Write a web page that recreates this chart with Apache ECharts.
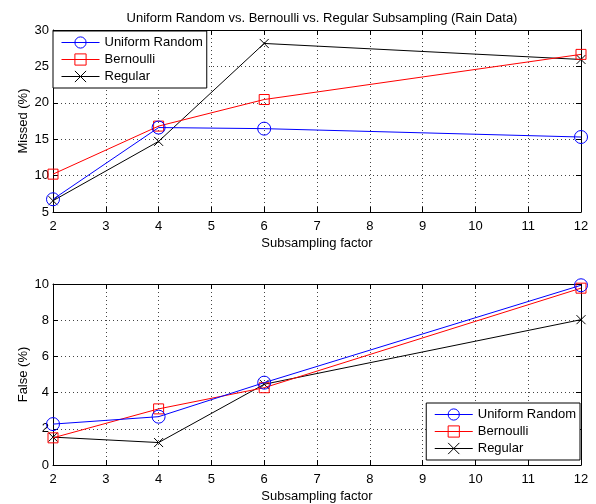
<!DOCTYPE html>
<html>
<head>
<meta charset="utf-8">
<script src="https://cdn.jsdelivr.net/npm/echarts@6/dist/echarts.min.js"></script>
<style>html,body{margin:0;padding:0;background:#fff}#c{width:596px;height:504px}</style>
</head>
<body>
<div id="c"></div>
<script>
var factors = [2, 4, 6, 12];
var seriesNames = ['Uniform Random', 'Bernoulli', 'Regular'];
var missedUniform = [6.75, 16.6, 16.45, 15.3];
var missedBernoulli = [10.2, 16.8, 20.45, 26.65];
var missedRegular = [6.55, 14.7, 28.15, 25.95];
var falseUniform = [2.26, 2.67, 4.55, 9.93];
var falseBernoulli = [1.50, 3.10, 4.27, 9.77];
var falseRegular = [1.54, 1.24, 4.46, 8.03];
var titleText = 'Uniform Random vs. Bernoulli vs. Regular Subsampling (Rain Data)';
var xName = 'Subsampling factor';
var yNameTop = 'Missed (%)';
var yNameBottom = 'False (%)';

var FONT = 'Liberation Sans, Arial, sans-serif';
var colors = ['#0000ff', '#ff0000', '#000000'];
var symbols = ['circle', 'rect', 'path://M0,0L10,10M10,0L0,10'];
var sizes = [13, 10, 9];

function pairs(vals) { return factors.map(function (f, i) { return [f, vals[i]]; }); }

var chart = echarts.init(document.getElementById('c'), null, {renderer: 'canvas'});

function mkX(gi, main) {
  return {
    type: 'value', gridIndex: gi, min: 2, max: 12, interval: 1,
    position: main ? 'bottom' : 'top',
    name: main ? xName : '', nameLocation: 'middle', nameGap: 25,
    nameTextStyle: {fontFamily: FONT, fontSize: 13, color: '#000'},
    axisLine: {show: true, onZero: false, lineStyle: {color: '#000', width: 1}},
    axisTick: {show: true, inside: true, length: 5, lineStyle: {color: '#000'}},
    axisLabel: {show: main, fontFamily: FONT, fontSize: 13, color: '#000', margin: 8},
    splitLine: {show: main, lineStyle: {color: '#444', type: [1, 3], width: 1}}
  };
}
function mkY(gi, main, min, max, interval, name) {
  return {
    type: 'value', gridIndex: gi, min: min, max: max, interval: interval,
    position: main ? 'left' : 'right',
    name: main ? name : '', nameLocation: 'middle', nameGap: 23, nameMoveOverlap: false,
    nameTextStyle: {fontFamily: FONT, fontSize: 13, color: '#000'},
    axisLine: {show: true, onZero: false, lineStyle: {color: '#000', width: 1}},
    axisTick: {show: true, inside: true, length: 5, lineStyle: {color: '#000'}},
    axisLabel: {show: main, fontFamily: FONT, fontSize: 13, color: '#000', margin: 4},
    splitLine: {show: main, lineStyle: {color: '#444', type: [1, 3], width: 1}}
  };
}

function mkSeries(data, k, xi, yi) {
  return {
    name: seriesNames[k], type: 'line', xAxisIndex: xi, yAxisIndex: yi,
    data: pairs(data), symbol: symbols[k], symbolSize: sizes[k], showSymbol: true,
    lineStyle: {color: colors[k], width: 1},
    itemStyle: {color: 'rgba(0,0,0,0)', borderColor: colors[k], borderWidth: 1},
    emphasis: {disabled: true}, z: 3 + (2 - k)
  };
}

var legendBase = {
  orient: 'vertical', data: seriesNames, itemWidth: 38, itemHeight: 14, itemGap: 4,
  backgroundColor: '#fff', borderColor: '#000', borderWidth: 1, borderRadius: 0,
  textStyle: {fontFamily: FONT, fontSize: 13, color: '#000'},
  lineStyle: {width: 1}, itemStyle: {borderWidth: 1},
  selectedMode: false, z: 10
};

chart.setOption({
  animation: false,
  backgroundColor: '#fff',
  title: {text: titleText, left: 317, textAlign: 'center', top: 7,
    textStyle: {fontFamily: FONT, fontSize: 13, fontWeight: 'normal', color: '#000'}},
  grid: [
    {left: 53, right: 15, top: 30, bottom: 292},
    {left: 53, right: 15, top: 284, bottom: 36}
  ],
  xAxis: [mkX(0, true), mkX(0, false), mkX(1, true), mkX(1, false)],
  yAxis: [mkY(0, true, 5, 30, 5, yNameTop), mkY(0, false, 5, 30, 5, ''),
          mkY(1, true, 0, 10, 2, yNameBottom), mkY(1, false, 0, 10, 2, '')],
  legend: [
    Object.assign({}, legendBase, {left: 53, top: 31, padding: [5, 4, 5, 8]}),
    Object.assign({}, legendBase, {right: 16, top: 403, padding: [5, 4, 5, 8]})
  ],
  series: [
    mkSeries(missedUniform, 0, 0, 0),
    mkSeries(missedBernoulli, 1, 0, 0),
    mkSeries(missedRegular, 2, 0, 0),
    mkSeries(falseUniform, 0, 2, 2),
    mkSeries(falseBernoulli, 1, 2, 2),
    mkSeries(falseRegular, 2, 2, 2)
  ]
});
</script>
</body>
</html>
